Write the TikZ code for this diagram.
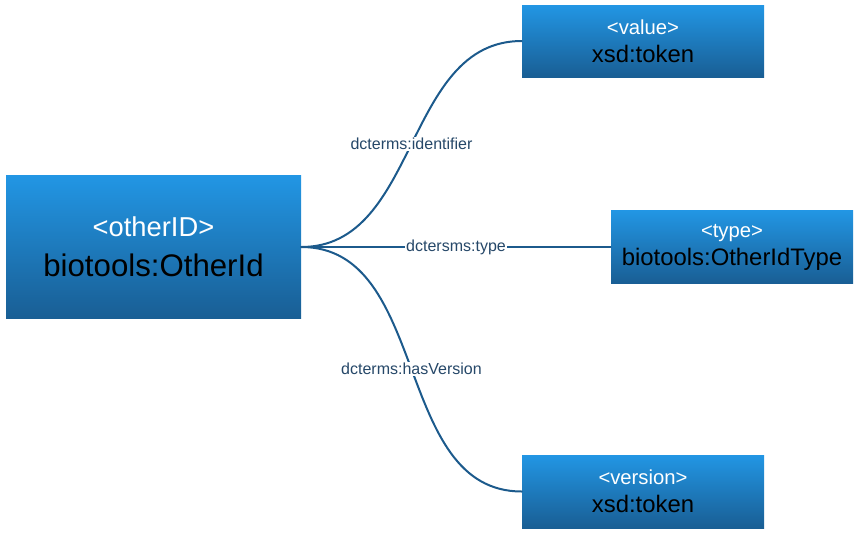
\documentclass[tikz,border=0pt]{standalone}
\usepackage{fontspec}
\setmainfont{Liberation Sans}
\definecolor{boxtop}{RGB}{34,150,228}
\definecolor{boxbot}{RGB}{25,94,148}
\definecolor{linkcol}{RGB}{28,90,140}
\definecolor{labcol}{RGB}{38,72,105}
\tikzset{
  klasse/.style={shade, top color=boxtop, bottom color=boxbot, inner sep=0pt, align=center},
  link/.style={draw=linkcol, line width=1.5pt},
  prop/.style={fill=white, text=labcol, inner sep=1pt, font=\fontsize{12}{14}\selectfont}
}
\newcommand{\tag}[2]{{\color{white}\fontsize{#1}{#1}\selectfont #2}}
\begin{document}
\begin{tikzpicture}[x=0.75pt, y=-0.75pt, line join=round, line cap=round]
    \useasboundingbox (0,0) rectangle (858,533);
    % hoofdklasse
    \node[klasse, minimum width=221.25pt, minimum height=107.25pt, font=\fontsize{23.4}{30}\selectfont] (other) at (153.5,247)
        {\tag{20.5}{<otherID>}\\biotools:OtherId};
    % doelklassen
    \node[klasse, minimum width=181.5pt, minimum height=54pt, font=\fontsize{17.9}{21}\selectfont] (value) at (643,41)
        {\tag{15.2}{<value>}\\xsd:token};
    \node[klasse, minimum width=181.5pt, minimum height=54.75pt, font=\fontsize{17.9}{21}\selectfont] (type) at (732,247)
        {\tag{15.2}{<type>}\\biotools:OtherIdType};
    \node[klasse, minimum width=181.5pt, minimum height=54.75pt, font=\fontsize{17.9}{21}\selectfont] (version) at (643,491.5)
        {\tag{15.2}{<version>}\\xsd:token};
    % eigenschappen
    \draw[link] (other.east) to[out=0, in=180] node[prop] (pid) {dcterms:identifier} (value.west);
    \draw[link] (other.east) -- node[prop] (ptype) {dctersms:type} (type.west);
    \draw[link] (other.east) to[out=0, in=180] node[prop] (pver) {dcterms:hasVersion} (version.west);
\end{tikzpicture}
\end{document}
